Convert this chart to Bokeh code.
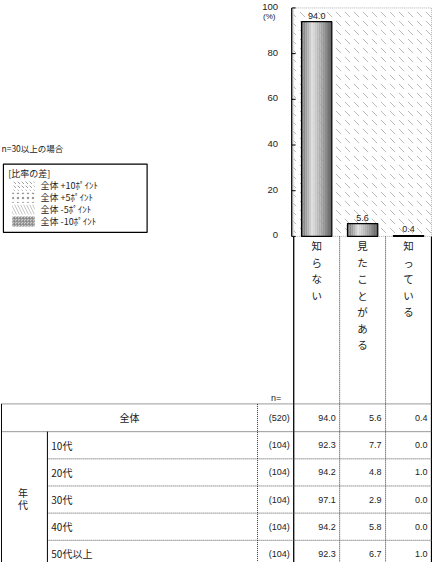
from bokeh.plotting import figure
from bokeh.models import Range1d, ColumnDataSource
from bokeh.embed import file_html
from bokeh.resources import INLINE
from bokeh.core.properties import value

# ---------------- data ----------------
categories = ["知らない", "見たことがある", "知っている"]
overall_label = "全体"
overall_n = 520
overall_pct = [94.0, 5.6, 0.4]
group_label = "年代"
age_labels = ["10代", "20代", "30代", "40代", "50代以上"]
age_n = [104, 104, 104, 104, 104]
age_not_know = [92.3, 94.2, 97.1, 94.2, 92.3]
age_seen = [7.7, 4.8, 2.9, 5.8, 6.7]
age_know = [0.0, 1.0, 0.0, 0.0, 1.0]
y_ticks = [0, 20, 40, 60, 80, 100]
unit_label = "(%)"
n_label = "n="
note_text = "n=30以上の場合"
legend_title = "[比率の差]"
legend_labels = ["全体 +10ﾎﾟｲﾝﾄ", "全体 +5ﾎﾟｲﾝﾄ", "全体 -5ﾎﾟｲﾝﾄ", "全体 -10ﾎﾟｲﾝﾄ"]

# ---------------- layout (page pixel positions) ----------------
X0, X1 = 5, 447
Y_TOP, Y_BOT = 8, 575
PCT0_Y, PCT100_Y = 246, 15.5
COL0_X, COL_W = 328.5, 47.0
JP = value("Noto Sans CJK JP")
NUM = value("Liberation Sans")

k = 100.0 / (PCT0_Y - PCT100_Y)
pct_range = Range1d(start=(PCT0_Y - Y_BOT) * k, end=(PCT0_Y - Y_TOP) * k)
cat_range = Range1d(start=(X0 - COL0_X) / COL_W, end=(X1 - COL0_X) / COL_W)

p = figure(width=432, height=562, x_range=Range1d(X0, X1), y_range=Range1d(Y_BOT, Y_TOP),
           output_backend="svg", toolbar_location=None, min_border=0,
           x_axis_location=None, y_axis_location=None, outline_line_color=None)
p.grid.visible = False
p.extra_y_ranges = {"pct": pct_range}
p.extra_x_ranges = {"cat": cat_range}

ncat = len(categories)
idx = list(range(ncat))

# textured chart background
p.quad(left=[-0.5], right=[ncat - 0.5], bottom=[0], top=[100], x_range_name="cat", y_range_name="pct",
       fill_color="white", hatch_pattern="left_diagonal_dash", hatch_color="#8c8c8c",
       hatch_scale=9, hatch_weight=0.6, line_color="#a0a0a0", line_dash="1 1", line_width=0.8)

# shaded (cylinder-like) bars built from strips
bar_w = 0.66
nstrip = 16
def shade(t):
    if t < 0.35:
        g = 0.42 + (0.88 - 0.42) * (t / 0.35)
    else:
        g = 0.88 - (0.88 - 0.38) * ((t - 0.35) / 0.65)
    c = int(g * 255)
    return "#%02x%02x%02x" % (c, c, c)

sx, sw, st, sc = [], [], [], []
for i, v in zip(idx, overall_pct):
    for j in range(nstrip):
        t = (j + 0.5) / nstrip
        sx.append(i - bar_w / 2 + t * bar_w)
        sw.append(bar_w / nstrip * 1.05)
        st.append(v)
        sc.append(shade(t))
p.vbar(x="x", width="w", top="top", bottom=0, fill_color="c", line_color=None,
       source=ColumnDataSource(dict(x=sx, w=sw, top=st, c=sc)), x_range_name="cat", y_range_name="pct")
p.vbar(x=idx, width=bar_w, top=overall_pct, bottom=0, fill_color=None, line_color="black",
       line_width=1.2, x_range_name="cat", y_range_name="pct")

# value labels
p.text(x=idx, y=overall_pct, text=[f"{v:.1f}" for v in overall_pct], x_range_name="cat", y_range_name="pct",
       text_align="center", text_baseline="bottom", y_offset=-3, text_font=NUM,
       text_font_size="9px", text_color="#222222")

# y axis
AX_X = 303
p.segment(x0=[AX_X], x1=[AX_X], y0=[0], y1=[100], y_range_name="pct", line_color="black", line_width=1.3)
p.segment(x0=[AX_X] * len(y_ticks), x1=[AX_X + 4] * len(y_ticks), y0=y_ticks, y1=y_ticks,
          y_range_name="pct", line_color="black", line_width=1)
p.text(x=[289] * len(y_ticks), y=y_ticks, text=[str(t) for t in y_ticks], y_range_name="pct",
       y_offset=-1, text_align="right", text_baseline="middle", text_font=NUM, text_font_size="9.5px",
       text_color="#222222")
p.text(x=[280], y=[24], text=[unit_label], text_align="center", text_baseline="middle",
       text_font=NUM, text_font_size="8px", text_color="#222222")

# category labels (vertical)
p.text(x=idx, y=[248] * ncat, text=["\n".join(c) for c in categories], x_range_name="cat",
       text_align="center", text_baseline="top", text_line_height=1.1,
       text_font=JP, text_font_size="10.5px", text_color="#222222")

# column boundaries from chart down through table
TABLE_TOP = 415
ROW0_BOT = 443
ROW_H = 27.4
TBL_BOT = 580
bounds = [i - 0.5 for i in idx] + [ncat - 0.5]
solid_b = [bounds[0], bounds[-1]]
dot_b = bounds[1:-1]
p.segment(x0=solid_b, x1=solid_b, y0=[PCT0_Y] * 2, y1=[TBL_BOT] * 2, x_range_name="cat",
          line_color="black", line_width=1.3)
p.segment(x0=dot_b, x1=dot_b, y0=[PCT0_Y] * len(dot_b), y1=[TBL_BOT] * len(dot_b), x_range_name="cat",
          line_color="#333333", line_width=1, line_dash="1 1")

# table grid
p.segment(x0=[6, 6], x1=[X1, X1], y0=[TABLE_TOP, ROW0_BOT], y1=[TABLE_TOP, ROW0_BOT],
          line_color="#333333", line_width=1, line_dash="1 1")
row_tops = [ROW0_BOT + r * ROW_H for r in range(len(age_labels))]
row_mid = [t + ROW_H / 2 for t in row_tops]
sep = row_tops[1:]
p.segment(x0=[53] * len(sep), x1=[X1] * len(sep), y0=sep, y1=sep,
          line_color="#555555", line_width=1, line_dash="1 1")
p.segment(x0=[6, 53], x1=[6, 53], y0=[TABLE_TOP, ROW0_BOT], y1=[TBL_BOT, TBL_BOT],
          line_color="black", line_width=1)
p.segment(x0=[268], x1=[268], y0=[TABLE_TOP], y1=[TBL_BOT], line_color="#333333", line_width=1, line_dash="1 1")

# table texts
p.text(x=[287], y=[409], text=[n_label], text_align="center", text_baseline="middle",
       text_font=NUM, text_font_size="9px", text_color="#222222")
ov_mid = (TABLE_TOP + ROW0_BOT) / 2
p.text(x=[137], y=[ov_mid], text=[overall_label], text_align="center", text_baseline="middle",
       text_font=JP, text_font_size="10px", text_color="#222222")
p.text(x=[301], y=[ov_mid], text=[f"({overall_n})"], text_align="right", text_baseline="middle",
       text_font=NUM, text_font_size="9px", text_color="#222222")
p.text(x=[i + 0.5 for i in idx], y=[ov_mid] * ncat, text=[f"{v:.1f}" for v in overall_pct],
       x_range_name="cat", x_offset=-4, text_align="right", text_baseline="middle",
       text_font=NUM, text_font_size="9px", text_color="#222222")

p.text(x=[28], y=[(ROW0_BOT + TBL_BOT) / 2 - 1], text=["\n".join(group_label)], text_align="center",
       text_baseline="middle", text_line_height=0.75, text_font=JP, text_font_size="10px", text_color="#222222")
p.text(x=[57] * len(age_labels), y=row_mid, text=age_labels, text_align="left", text_baseline="middle",
       text_font=JP, text_font_size="10px", text_color="#222222")
p.text(x=[301] * len(age_labels), y=row_mid, text=[f"({n})" for n in age_n], text_align="right",
       text_baseline="middle", text_font=NUM, text_font_size="9px", text_color="#222222")
for ci, col in enumerate([age_not_know, age_seen, age_know]):
    p.text(x=[ci + 0.5] * len(col), y=row_mid, text=[f"{v:.1f}" for v in col], x_range_name="cat",
           x_offset=-4, text_align="right", text_baseline="middle",
           text_font=NUM, text_font_size="9px", text_color="#222222")

# note + legend
p.text(x=[6], y=[157], text=[note_text], text_align="left", text_baseline="middle",
       text_font=JP, text_font_size="8.5px", text_color="#222222")
p.quad(left=[8], right=[155], top=[173], bottom=[242], fill_color="white", line_color="black", line_width=1.2)
p.text(x=[13], y=[183], text=[legend_title], text_align="left", text_baseline="middle",
       text_font=JP, text_font_size="9px", text_color="#222222")
leg_y = [195 + 12 * r for r in range(len(legend_labels))]
patterns = [("left_diagonal_dash", "#777777", 4, "white"),
            ("dot", "#999999", 5, "white"),
            ("left_diagonal_line", "#aaaaaa", 6, "white"),
            ("criss_cross", "#888888", 3, "#cfcfcf")]
for y, (hp, hc, hs, fc) in zip(leg_y, patterns):
    p.quad(left=[17], right=[40], top=[y - 5], bottom=[y + 5], fill_color=fc, line_color=None,
           hatch_pattern=hp, hatch_color=hc, hatch_scale=hs, hatch_weight=0.7)
p.text(x=[46] * len(legend_labels), y=leg_y, text=legend_labels, text_align="left", text_baseline="middle",
       text_font=JP, text_font_size="9px", text_color="#222222")

open("out.html", "w").write(file_html(p, INLINE))
